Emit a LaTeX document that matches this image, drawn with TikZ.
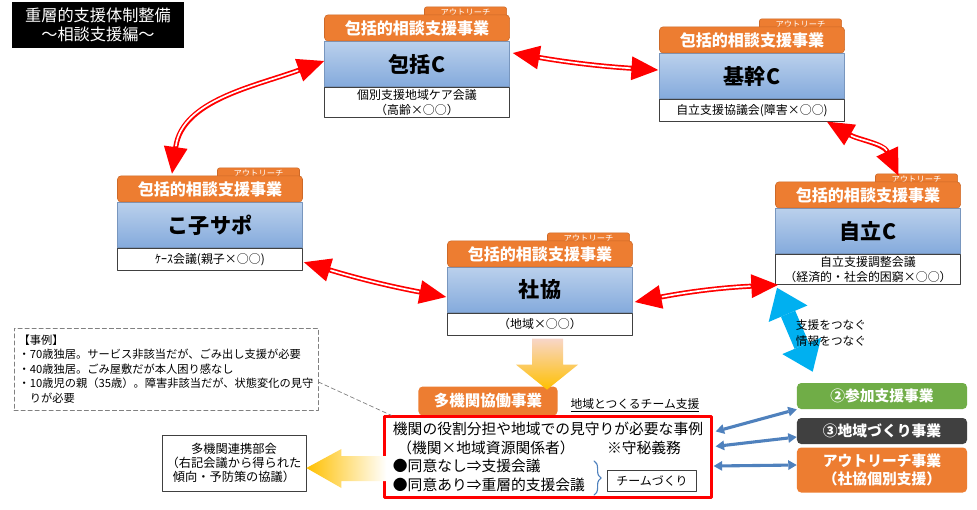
\documentclass[tikz,border=0pt]{standalone}
\usepackage{fontspec}
\setmainfont{Noto Sans CJK JP}
\usetikzlibrary{arrows.meta,calc,positioning,decorations.pathreplacing}

\definecolor{soudanorange}{RGB}{237,125,49}
\definecolor{soudanedge}{RGB}{205,105,40}
\definecolor{centertop}{RGB}{186,208,236}
\definecolor{centerbot}{RGB}{132,170,220}
\definecolor{centeredge}{RGB}{120,150,190}
\definecolor{tsunagublue}{RGB}{0,176,240}
\definecolor{jigyoblue}{RGB}{79,129,189}
\definecolor{sankagreen}{RGB}{112,173,71}
\definecolor{chiikigray}{RGB}{64,64,64}
\definecolor{flowgold}{RGB}{255,192,0}
\definecolor{flowpeach}{RGB}{248,214,200}

\tikzset{
  titlebox/.style={fill=black, text=white, minimum width=4.275cm, minimum height=1.15cm, inner sep=0pt, align=center, font=\fontsize{11.5}{13.5}\selectfont},
  cbody/.style={top color=centertop, bottom color=centerbot, draw=centeredge, line width=0.4pt, minimum width=4.625cm, minimum height=1.125cm, inner sep=0pt, font=\fontsize{15}{17}\selectfont\bfseries},
  chead/.style={fill=soudanorange, draw=soudanedge, line width=0.4pt, rounded corners=2.5pt, minimum width=4.625cm, minimum height=0.65cm, inner sep=0pt, text=white, font=\fontsize{11.4}{13}\selectfont\bfseries},
  ctab/.style={fill=soudanorange, draw=soudanedge, line width=0.4pt, rounded corners=1.5pt, minimum width=2.05cm, minimum height=0.25cm, inner sep=0pt, text=white, font=\fontsize{5.9}{6}\selectfont},
  csub/.style={fill=white, draw=black!75, line width=0.6pt, minimum width=4.625cm, minimum height=0.55cm, inner sep=1.5pt, align=center, font=\fontsize{8.5}{10.5}\selectfont},
  link/.style={draw=red, line width=3.6pt, {Triangle[length=19pt,width=17pt,line width=0pt]}-{Triangle[length=19pt,width=17pt,line width=0pt]}, postaction={draw=white, line width=1.2pt, shorten <=20pt, shorten >=20pt, arrows=-}},
  tsunagu/.style={draw=tsunagublue, line width=11pt, line cap=butt, {Triangle[length=20pt,width=30pt,line width=0pt]}-{Triangle[length=20pt,width=30pt,line width=0pt]}},
  jigyo/.style={draw=jigyoblue, line width=2.2pt, line cap=butt, {Triangle[length=6pt,width=7pt,line width=0pt]}-{Triangle[length=6pt,width=7pt,line width=0pt]}},
  sidebox/.style={rounded corners=3pt, text=white, minimum width=4.25cm, inner sep=0pt, align=center, font=\fontsize{10.5}{13}\selectfont\bfseries},
}

\begin{document}
\begin{tikzpicture}[x=0.025cm, y=-0.025cm, line cap=round, line join=round]
  \path[use as bounding box, fill=white] (0,0) rectangle (977,509);

  % タイトル
  \node[titlebox] (title) at (98,25) {重層的支援体制整備\\～相談支援編～};

  % 包括的相談支援事業の5機関(アウトリーチ・事業名・機関名・会議)
  \foreach \nm/\x/\y/\lbl/\mtg in {
      hokatsu/417/64/包括C/{個別支援地域ケア会議\\（高齢×○○）},
      kikan/752/76/基幹C/{自立支援協議会(障害×○○)},
      jiritsu/868/231/自立C/{自立支援調整会議\\（経済的・社会的困窮×○○）},
      kosapo/210/225/こ子サポ/{ｹｰｽ会議(親子×○○)},
      shakyo/540/290/社協/{（地域×○○）}}{
    \node[cbody] (\nm) at (\x,\y) {\lbl};
    \node[ctab, anchor=south east] (\nm-t) at ([shift={(-3,-24)}]\nm.north east) {アウトリーチ};
    \node[chead, anchor=south] (\nm-h) at (\nm.north) {包括的相談支援事業};
    \node[csub, anchor=north] (\nm-s) at (\nm.south) {\mtg};
  }

  % 事例と多機関連携部会
  \node[draw=gray, densely dashed, line width=0.5pt, minimum width=7.575cm, minimum height=2.05cm, align=left, font=\fontsize{8}{10.3}\selectfont] (jirei) at (166,369)
    {【事例】\\・70歳独居。サービス非該当だが、ごみ出し支援が必要\\・40歳独居。ごみ屋敷だが本人困り感なし\\・10歳児の親（35歳）。障害非該当だが、状態変化の見守\\\hspace*{1em}りが必要};
  \node[draw=black!75, line width=0.6pt, minimum width=3.55cm, minimum height=1.4cm, align=center, font=\fontsize{8.7}{10.2}\selectfont] (renkei) at (234,463)
    {多機関連携部会\\（右記会議から得られた\\傾向・予防策の協議）};

  % 多機関協働事業
  \node[fill=soudanorange, rounded corners=3pt, minimum width=3.475cm, minimum height=0.725cm, inner sep=0pt, text=white, font=\fontsize{11}{13}\selectfont\bfseries] (tako) at (488,401) {多機関協働事業};
  \node[font=\fontsize{8.4}{10}\selectfont] (teamshien) at (635,405) {\underline{地域とつくるチーム支援}};
  \node[draw=red, line width=1.6pt, minimum width=8.175cm, minimum height=2.025cm, inner sep=0pt, align=left, font=\fontsize{10.5}{13.3}\selectfont] (kaigi) at (548,457)
    {機関の役割分担や地域での見守りが必要な事例\\\hspace*{0.3em}（機関×地域資源関係者）\hspace{2.2em}※守秘義務\\●同意なし⇒支援会議\\●同意あり⇒重層的支援会議};
  \node[draw=black!75, line width=0.6pt, minimum width=2.225cm, minimum height=0.525cm, inner sep=0pt, font=\fontsize{8.5}{10}\selectfont] (team) at (652,481) {チームづくり};
  \draw[jigyoblue, line width=0.8pt, decorate, decoration={brace, amplitude=5pt}] ($(team.west)+(-13,-20)$) -- ($(team.west)+(-13,14)$);

  % 右側の事業
  \node[sidebox, fill=sankagreen, minimum height=0.65cm] (sanka) at (882,396) {②参加支援事業};
  \node[sidebox, fill=chiikigray, minimum height=0.65cm] (chiiki) at (882,431) {③地域づくり事業};
  \node[sidebox, fill=soudanorange, minimum height=1.125cm] (outreach) at (882,470) {アウトリーチ事業\\（社協個別支援）};

  % 機関どうしをつなぐ赤い両矢印
  \draw[link] ($(hokatsu.east)+(3,-11)$) to[bend right=3] ($(kikan.west)+(-1,-6)$);
  \draw[link] ($(kikan-s.south east)+(-18,0)$) to[out=-30, in=115] ($(jiritsu-t.north)+(-18,2)$);
  \draw[link] ($(shakyo.east)+(2,12)$) to[bend left=4] ($(jiritsu-s.south west)+(3,0)$);
  \draw[link] ($(kosapo-s.east)+(1,3)$) to[bend right=3] ($(shakyo.west)+(-1,7)$);
  \draw[link] ($(kosapo-h.north)+(-38,-2)$) to[out=82, in=200] ($(hokatsu.west)+(0,-3)$);

  % 支援・情報をつなぐ
  \draw[tsunagu] ($(jiritsu-s.south west)+(2,3)$) -- ($(sanka.north west)+(16,-11)$);
  \node[align=left, font=\fontsize{8.3}{11}\selectfont] (tsunagu-t) at (831,333) {支援をつなぐ\\情報をつなぐ};

  % グラデーションの矢印
  \begin{scope}[shift={(shakyo-s.south)}]
    \shade[top color=flowpeach, bottom color=flowgold] (-8,3) -- (23,3) -- (23,29) -- (38,29) -- (7,54) -- (-24,29) -- (-8,29) -- cycle;
  \end{scope}
  \begin{scope}[shift={(renkei.east)}]
    \shade[left color=flowgold, right color=white] (0,5) -- (35,-14) -- (35,-7) -- (80,-7) -- (80,18) -- (35,18) -- (35,25) -- cycle;
  \end{scope}

  % 事例から会議へ
  \draw[gray, densely dashed, line width=0.5pt] ($(jirei.east)+(0,13)$) -- ($(kaigi.north west)+(8,0)$);

  % 会議と各事業をつなぐ
  \draw[jigyo] ($(kaigi.north east)+(3,16)$) -- (sanka.south west);
  \draw[jigyo] ($(kaigi.north east)+(3,31)$) -- ($(chiiki.west)+(0,6)$);
  \draw[jigyo] ($(kaigi.east)+(1,9)$) -- ($(outreach.west)+(0,-5)$);
\end{tikzpicture}
\end{document}
